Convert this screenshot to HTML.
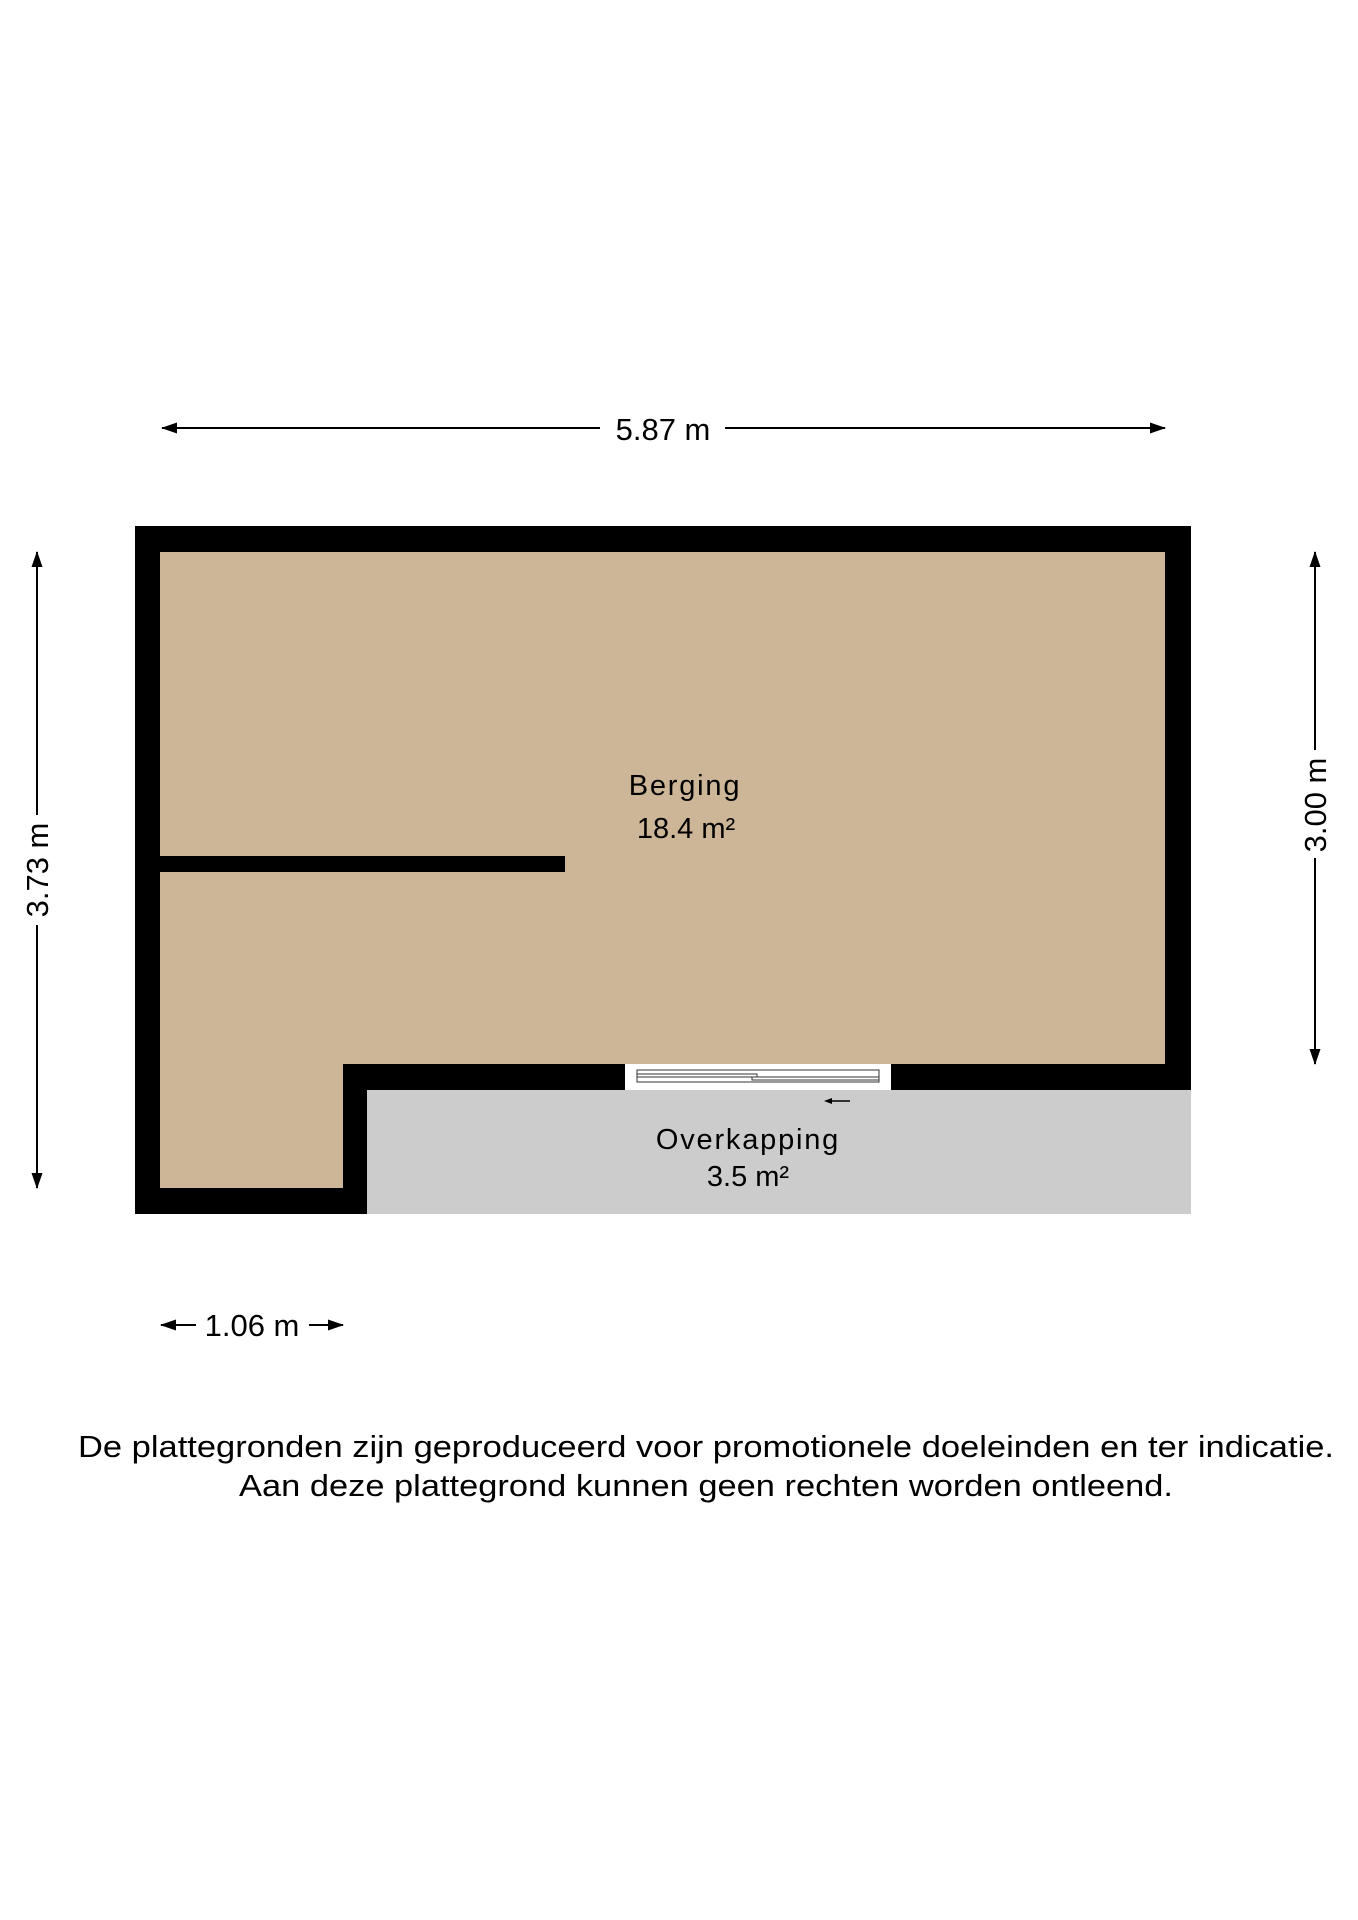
<!DOCTYPE html>
<html><head><meta charset="utf-8"><style>html,body{margin:0;padding:0;background:#fff}svg{display:block}</style></head>
<body>
<svg width="1358" height="1920" viewBox="0 0 1358 1920" xmlns="http://www.w3.org/2000/svg" font-family="Liberation Sans, sans-serif">
<defs>
<marker id="ah" markerWidth="16" markerHeight="11" refX="15" refY="5.5" orient="auto" markerUnits="userSpaceOnUse" viewBox="0 0 16 11"><path d="M0,0 L16,5.5 L0,11 Z" fill="#000"/></marker>
</defs>
<rect x="367" y="1089" width="824" height="125" fill="#cccccc"/>
<path d="M135,526 H1191 V1090 H367 V1214 H135 Z" fill="#000"/>
<path d="M160,552 H1165 V1064 H343 V1188 H160 Z" fill="#cdb597"/>
<rect x="160" y="856" width="405" height="16" fill="#000"/>
<rect x="625" y="1064" width="266" height="26" fill="#fff"/>
<rect x="637" y="1070" width="242" height="12" fill="none" stroke="#333" stroke-width="1"/>
<rect x="637" y="1074" width="120" height="3" fill="#fff" stroke="#333" stroke-width="1"/>
<rect x="752" y="1077" width="127" height="3" fill="#fff" stroke="#333" stroke-width="1"/>
<line x1="850" y1="1101" x2="826" y2="1101" stroke="#000" stroke-width="1.5"/>
<path d="M824,1101 L832,1098 L832,1104 Z" fill="#000"/>
<line x1="600" y1="428" x2="162" y2="428" stroke="#000" stroke-width="2" marker-end="url(#ah)"/>
<line x1="725" y1="428" x2="1165" y2="428" stroke="#000" stroke-width="2" marker-end="url(#ah)"/>
<text x="663" y="440" font-size="31" text-anchor="middle">5.87 m</text>
<line x1="37" y1="815" x2="37" y2="552" stroke="#000" stroke-width="2" marker-end="url(#ah)"/>
<line x1="37" y1="925" x2="37" y2="1188" stroke="#000" stroke-width="2" marker-end="url(#ah)"/>
<text transform="translate(48,870) rotate(-90)" font-size="31" text-anchor="middle">3.73 m</text>
<line x1="1315" y1="750" x2="1315" y2="552" stroke="#000" stroke-width="2" marker-end="url(#ah)"/>
<line x1="1315" y1="858" x2="1315" y2="1064" stroke="#000" stroke-width="2" marker-end="url(#ah)"/>
<text transform="translate(1326,805) rotate(-90)" font-size="31" text-anchor="middle">3.00 m</text>
<line x1="196" y1="1325" x2="161" y2="1325" stroke="#000" stroke-width="2" marker-end="url(#ah)"/>
<line x1="309" y1="1325" x2="343" y2="1325" stroke="#000" stroke-width="2" marker-end="url(#ah)"/>
<text x="252" y="1336" font-size="31" text-anchor="middle">1.06 m</text>
<text x="685" y="795" font-size="29" text-anchor="middle" letter-spacing="1.8">Berging</text>
<text x="686" y="838" font-size="29" text-anchor="middle">18.4 m²</text>
<text x="748" y="1149" font-size="29" text-anchor="middle" letter-spacing="1.8">Overkapping</text>
<text x="748" y="1186" font-size="29" text-anchor="middle">3.5 m²</text>
<text x="706" y="1457" font-size="31" text-anchor="middle" textLength="1256" lengthAdjust="spacingAndGlyphs">De plattegronden zijn geproduceerd voor promotionele doeleinden en ter indicatie.</text>
<text x="706" y="1496" font-size="31" text-anchor="middle" textLength="934" lengthAdjust="spacingAndGlyphs">Aan deze plattegrond kunnen geen rechten worden ontleend.</text>
</svg>
</body></html>
